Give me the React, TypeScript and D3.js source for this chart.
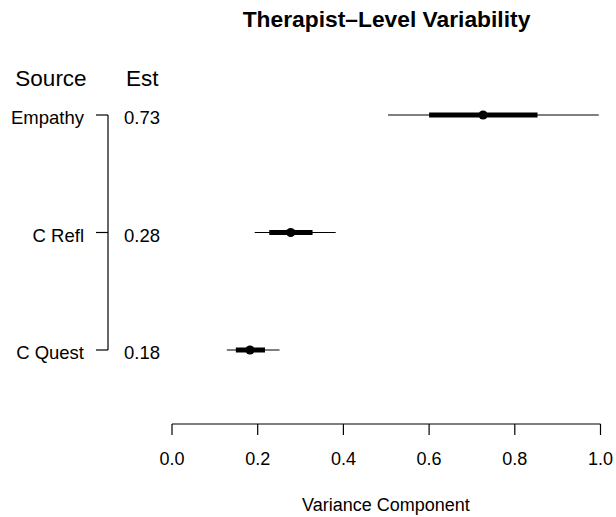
import React from "react";
import * as d3 from "d3";

const sources = ["Empathy", "C Refl", "C Quest"];
const estimates = [0.726, 0.277, 0.182];
const outerLow = [0.504, 0.193, 0.128];
const outerHigh = [0.996, 0.382, 0.251];
const innerLow = [0.6, 0.227, 0.149];
const innerHigh = [0.853, 0.328, 0.217];
const xTicks = [0, 0.2, 0.4, 0.6, 0.8, 1.0];

export default function App() {
  const W = 616, H = 517;
  const font = "Liberation Sans, Arial, Helvetica, sans-serif";
  const x = d3.scaleLinear().domain([0, 1]).range([172, 600.5]);
  const y = d3.scalePoint<string>().domain(sources).range([115, 350]);
  const axisY = 424;
  return (
    <svg width={W} height={H} style={{ position: "absolute", left: 0, top: 0 }} fontFamily={font}>
      <text x={386.5} y={27} textAnchor="middle" fontWeight="bold" fontSize={22.8}>Therapist–Level Variability</text>
      <text x={51} y={86} textAnchor="middle" fontSize={22.5}>Source</text>
      <text x={126} y={86} textAnchor="start" fontSize={22.5}>Est</text>
      <line x1={108} x2={108} y1={y(sources[0])} y2={y(sources[sources.length - 1])} stroke="#000" strokeWidth={1.2} />
      {sources.map((s, i) => {
        const yy = y(s)!;
        return (
          <g key={s}>
            <line x1={96} x2={108} y1={yy} y2={yy} stroke="#000" strokeWidth={1.2} />
            <text x={84} y={yy + 9} textAnchor="end" fontSize={18.5}>{s}</text>
            <text x={124} y={yy + 9} textAnchor="start" fontSize={18.5}>{estimates[i].toFixed(2)}</text>
            <line x1={x(outerLow[i])} x2={x(outerHigh[i])} y1={yy} y2={yy} stroke="#000" strokeWidth={1.2} />
            <line x1={x(innerLow[i])} x2={x(innerHigh[i])} y1={yy} y2={yy} stroke="#000" strokeWidth={5} />
            <circle cx={x(estimates[i])} cy={yy} r={4.6} fill="#000" />
          </g>
        );
      })}
      <line x1={x(0)} x2={x(1)} y1={axisY} y2={axisY} stroke="#000" strokeWidth={1.2} />
      {xTicks.map((t) => (
        <g key={t}>
          <line x1={x(t)} x2={x(t)} y1={axisY} y2={axisY + 11} stroke="#000" strokeWidth={1.2} />
          <text x={x(t)} y={465} textAnchor="middle" fontSize={18}>{t.toFixed(1)}</text>
        </g>
      ))}
      <text x={386} y={511} textAnchor="middle" fontSize={18}>Variance Component</text>
    </svg>
  );
}
